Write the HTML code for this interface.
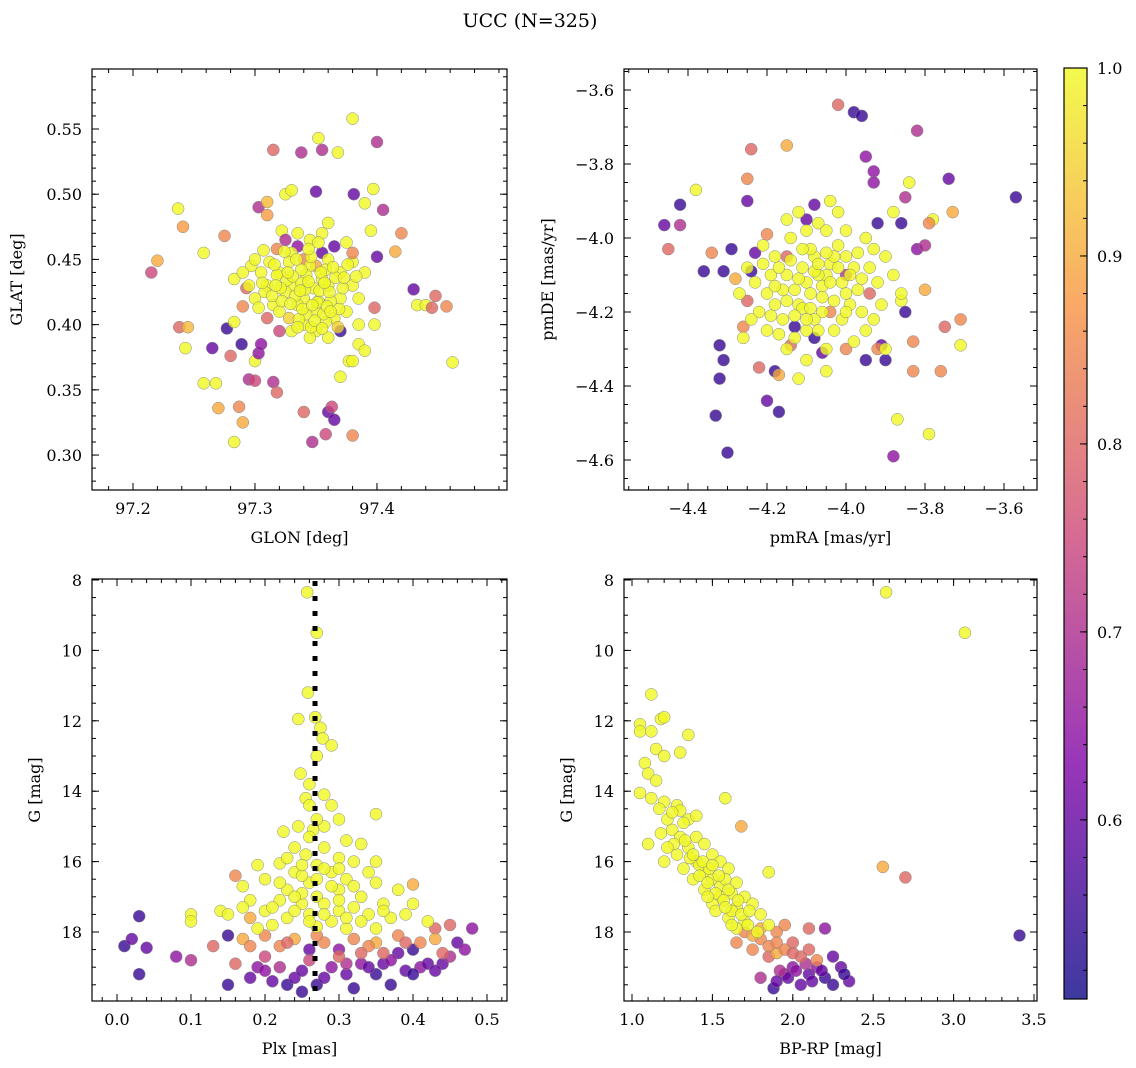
<!DOCTYPE html>
<html><head><meta charset="utf-8"><style>
body{margin:0;background:#fff;}
svg{display:block;font-family:"DejaVu Serif","Liberation Serif",serif;}
</style></head><body>
<svg id="fig" width="1136" height="1068" viewBox="0 0 1136 1068" xmlns="http://www.w3.org/2000/svg">
<text x="530" y="27" font-size="19" text-anchor="middle">UCC (N=325)</text>
</svg>
<script>
// Panel 1: GLON, GLAT, probability
const glonGlat = [[97.215,0.44,0.75],[97.22,0.449,0.9],[97.237,0.489,1],[97.241,0.475,0.88],[97.238,0.398,0.8],[97.245,0.398,0.92],[97.243,0.382,1],[97.258,0.455,1],[97.258,0.355,1],[97.268,0.355,1],[97.27,0.336,0.9],[97.265,0.382,0.6],[97.275,0.468,0.85],[97.277,0.397,0.55],[97.28,0.376,0.8],[97.283,0.31,1],[97.283,0.402,1],[97.283,0.435,1],[97.287,0.337,0.85],[97.29,0.325,0.9],[97.289,0.385,0.55],[97.29,0.414,0.85],[97.293,0.428,0.8],[97.295,0.358,0.7],[97.3,0.357,0.75],[97.3,0.372,1],[97.297,0.445,1],[97.303,0.49,0.7],[97.303,0.378,0.65],[97.305,0.385,0.65],[97.307,0.457,1],[97.31,0.494,0.92],[97.31,0.484,0.88],[97.315,0.534,0.8],[97.315,0.356,0.7],[97.318,0.348,0.8],[97.318,0.458,0.85],[97.322,0.472,1],[97.325,0.5,1],[97.33,0.503,1],[97.338,0.532,0.7],[97.34,0.333,0.8],[97.347,0.31,0.7],[97.35,0.502,0.6],[97.352,0.543,1],[97.355,0.534,0.7],[97.358,0.316,0.75],[97.36,0.333,0.6],[97.363,0.337,0.75],[97.365,0.327,0.6],[97.368,0.532,1],[97.37,0.36,1],[97.377,0.372,1],[97.38,0.315,0.85],[97.38,0.372,1],[97.38,0.558,1],[97.381,0.5,0.6],[97.385,0.385,1],[97.39,0.493,1],[97.397,0.504,1],[97.398,0.4,1],[97.398,0.413,0.8],[97.4,0.54,0.7],[97.405,0.488,0.7],[97.415,0.456,0.9],[97.43,0.427,0.6],[97.433,0.415,1],[97.44,0.415,1],[97.445,0.413,0.8],[97.448,0.422,0.8],[97.457,0.414,0.85],[97.462,0.371,1],[97.395,0.472,1],[97.38,0.448,1],[97.375,0.463,1],[97.39,0.38,1],[97.4,0.452,0.6],[97.42,0.47,0.85],
[97.355,0.455,0.6],[97.365,0.46,0.6],[97.335,0.46,0.65],[97.325,0.465,0.7],[97.37,0.395,0.55],[97.34,0.45,0.85],[97.35,0.445,0.9],[97.31,0.405,0.8],[97.38,0.455,0.85],[97.32,0.395,0.75],
[97.32,0.44,1],[97.33,0.43,1],[97.34,0.42,1],[97.35,0.41,1],[97.36,0.43,1],[97.37,0.42,1],[97.345,0.445,1],[97.355,0.435,1],[97.335,0.415,1],[97.325,0.425,1],[97.365,0.405,1],[97.34,0.40,1],[97.35,0.395,1],[97.36,0.45,1],[97.33,0.455,1],[97.315,0.415,1],[97.31,0.43,1],[97.305,0.44,1],[97.37,0.44,1],[97.38,0.43,1],[97.375,0.41,1],[97.345,0.465,1],[97.355,0.47,1],[97.335,0.47,1],[97.36,0.478,1],[97.32,0.41,1],[97.33,0.395,1],[97.348,0.428,1],[97.352,0.418,1],[97.342,0.438,1],[97.358,0.442,1],[97.338,0.432,1],[97.328,0.448,1],[97.318,0.438,1],[97.362,0.418,1],[97.372,0.428,1],[97.368,0.398,0.95],[97.328,0.405,0.95],[97.3,0.42,1],[97.295,0.43,1],[97.29,0.44,1],[97.385,0.42,1],[97.39,0.44,1],[97.345,0.39,1],[97.3,0.45,1],[97.36,0.39,1],[97.312,0.448,1],[97.342,0.408,1],[97.358,0.402,1],[97.333,0.422,1],[97.366,0.436,1],[97.376,0.446,1],[97.326,0.434,1],[97.346,0.452,1],[97.353,0.426,1],[97.338,0.442,1],[97.322,0.418,1],[97.308,0.425,1],[97.385,0.4,1],
[97.331,0.437,1],[97.341,0.427,1],[97.351,0.417,1],[97.361,0.425,1],[97.336,0.404,1],[97.346,0.398,1],[97.356,0.408,1],[97.321,0.428,1],[97.314,0.422,1],[97.344,0.433,1],[97.354,0.44,1],[97.364,0.444,1],[97.334,0.45,1],[97.324,0.456,1],[97.344,0.458,1],[97.352,0.463,1],[97.339,0.412,1],[97.329,0.416,1],[97.359,0.414,1],[97.369,0.412,1],[97.373,0.436,1],[97.316,0.446,1],[97.306,0.432,1],[97.349,0.403,1],[97.357,0.432,1],[97.337,0.426,1],[97.327,0.44,1],[97.347,0.415,1],[97.362,0.41,1],[97.317,0.43,1],[97.303,0.413,1],[97.383,0.437,1],[97.335,0.398,1],[97.355,0.397,1]];
// Panel 2: pmRA, pmDE, probability
const pmraPmde = [[-4.46,-3.965,0.6],[-4.45,-4.03,0.8],[-4.42,-3.91,0.55],[-4.42,-3.965,0.7],[-4.38,-3.87,1],[-4.36,-4.09,0.55],[-4.34,-4.04,0.85],[-4.33,-4.48,0.55],[-4.32,-4.29,0.55],[-4.31,-4.33,0.55],[-4.32,-4.38,0.55],[-4.3,-4.58,0.55],[-4.31,-4.09,0.55],[-4.29,-4.03,0.55],[-4.28,-4.11,0.9],[-4.26,-4.24,0.85],[-4.26,-4.27,1],[-4.25,-3.84,0.85],[-4.25,-3.9,0.6],[-4.24,-3.76,0.8],[-4.24,-4.09,0.55],[-4.23,-4.04,0.6],[-4.22,-4.35,0.8],[-4.2,-4.44,0.6],[-4.18,-4.36,0.55],[-4.17,-4.47,0.55],[-4.17,-4.37,0.9],[-4.15,-3.75,0.9],[-4.15,-3.95,1],[-4.12,-4.38,1],[-4.1,-3.95,0.6],[-4.08,-3.91,0.6],[-4.05,-4.36,1],[-4.02,-3.64,0.8],[-3.98,-3.66,0.55],[-3.96,-3.67,0.55],[-3.95,-3.78,0.65],[-3.93,-3.82,0.65],[-3.93,-3.85,0.65],[-3.92,-3.96,0.55],[-3.91,-4.29,0.6],[-3.9,-4.33,0.55],[-3.88,-3.93,1],[-3.88,-4.59,0.65],[-3.87,-4.49,1],[-3.86,-3.96,0.55],[-3.86,-4.17,1],[-3.85,-3.89,0.7],[-3.84,-3.85,1],[-3.83,-4.28,0.85],[-3.82,-4.03,0.65],[-3.8,-4.02,0.7],[-3.8,-4.14,0.9],[-3.82,-3.71,0.7],[-3.79,-4.53,1],[-3.78,-3.95,1],[-3.79,-3.96,0.85],[-3.76,-4.36,0.85],[-3.74,-3.84,0.6],[-3.73,-3.93,0.9],[-3.75,-4.24,0.8],[-3.71,-4.22,0.85],[-3.71,-4.29,1],[-3.57,-3.89,0.55],[-3.83,-4.36,0.85],[-3.85,-4.2,0.55],[-3.92,-4.3,0.85],[-3.95,-4.33,0.55],[-4.0,-4.3,0.85],[-4.06,-4.31,0.6],[-4.08,-4.27,0.55],[-4.14,-4.29,0.8],[-4.0,-4.1,0.7],[-4.15,-4.05,0.8],[-4.25,-4.17,0.8],[-4.2,-3.99,0.85],[-4.13,-4.24,0.55],[-4.04,-4.2,0.85],[-3.94,-4.15,0.8],
[-4.05,-4.1,1],[-4.1,-4.12,1],[-4.0,-4.15,1],[-4.08,-4.05,1],[-4.02,-4.02,1],[-4.12,-4.18,1],[-3.98,-4.08,1],[-4.15,-4.1,1],[-4.06,-4.2,1],[-3.96,-4.2,1],[-4.18,-4.05,1],[-4.14,-4.0,1],[-3.95,-4.0,1],[-4.03,-4.25,1],[-4.1,-4.25,1],[-4.2,-4.15,1],[-3.92,-4.12,1],[-4.0,-3.98,1],[-4.07,-3.96,1],[-4.22,-4.2,1],[-3.9,-4.05,1],[-4.16,-4.22,1],[-4.04,-4.07,1],[-4.09,-4.15,1],[-4.01,-4.12,1],[-4.11,-4.08,1],[-3.99,-4.18,1],[-4.07,-4.1,1],[-4.13,-4.14,1],[-3.97,-4.04,1],[-4.19,-4.1,1],[-4.25,-4.08,1],[-4.21,-4.02,1],[-3.93,-4.22,1],[-4.05,-4.3,1],[-4.1,-4.33,1],[-4.12,-3.93,1],[-4.02,-3.93,1],[-3.88,-4.1,1],[-4.03,-4.17,1],[-4.08,-4.22,1],[-4.17,-4.26,1],[-3.94,-4.08,1],[-4.06,-4.13,1],[-4.14,-4.06,1],[-4.0,-4.05,1],[-4.11,-4.19,1],[-4.18,-4.18,1],[-4.23,-4.12,1],[-3.86,-4.15,1],[-3.95,-4.25,1],[-4.04,-3.9,1],[-4.1,-3.98,1],[-3.98,-4.28,1],[-4.15,-4.3,1],[-4.27,-4.15,1],[-3.9,-4.3,1],[-4.2,-4.25,1],
[-4.04,-4.12,1],[-4.08,-4.09,1],[-4.12,-4.11,1],[-4.02,-4.08,1],[-4.06,-4.16,1],[-4.13,-4.21,1],[-3.99,-4.1,1],[-4.16,-4.14,1],[-4.09,-4.03,1],[-4.03,-4.05,1],[-3.97,-4.14,1],[-4.01,-4.22,1],[-4.07,-4.25,1],[-4.17,-4.08,1],[-4.21,-4.07,1],[-3.93,-4.03,1],[-3.96,-4.11,1],[-4.11,-4.03,1],[-4.15,-4.17,1],[-4.19,-4.21,1],[-4.05,-4.04,1],[-4.0,-4.2,1],[-4.09,-4.19,1],[-4.13,-4.27,1],[-4.05,-3.98,1],[-3.91,-4.18,1],[-4.24,-4.22,1],[-4.07,-4.07,1],[-4.1,-4.22,1],[-4.18,-4.13,1]];
// Panel 3: Plx, G, probability
const plxG = [[0.01,18.4,0.55],[0.02,18.2,0.6],[0.03,17.55,0.55],[0.03,19.2,0.55],[0.04,18.45,0.6],[0.08,18.7,0.65],[0.1,18.8,0.7],[0.15,18.1,0.55],[0.15,19.5,0.55],[0.19,19.0,0.65],[0.21,19.4,0.6],[0.23,19.5,0.55],[0.24,19.3,0.6],[0.25,19.7,0.55],[0.25,19.1,0.6],[0.27,19.5,0.55],[0.29,19.0,0.65],[0.31,19.2,0.6],[0.32,19.6,0.55],[0.33,18.9,0.65],[0.35,19.2,0.55],[0.37,19.5,0.55],[0.39,19.1,0.6],[0.4,18.5,0.55],[0.41,19.0,0.65],[0.42,18.9,0.6],[0.44,18.9,0.6],[0.46,18.3,0.6],[0.47,18.5,0.65],[0.48,17.9,0.65],[0.38,18.6,0.6],[0.36,18.9,0.6],[0.26,18.5,0.6],[0.3,18.5,0.65],[0.18,19.3,0.6],[0.22,19.0,0.7],[0.4,19.2,0.55],[0.45,18.7,0.7],[0.34,19.0,0.6],[0.28,19.3,0.6],[0.2,19.1,0.65],[0.43,19.1,0.6],[0.37,18.8,0.65],[0.31,18.9,0.7],
[0.4,16.65,0.9],[0.16,16.4,0.85],[0.18,17.6,0.9],[0.13,18.4,0.8],[0.17,18.2,0.9],[0.2,18.1,0.85],[0.22,18.4,0.85],[0.24,18.2,0.9],[0.28,18.3,0.85],[0.32,18.2,0.85],[0.35,18.3,0.9],[0.38,18.1,0.85],[0.41,18.3,0.85],[0.43,17.9,0.8],[0.45,17.8,0.8],[0.3,18.7,0.8],[0.26,18.8,0.75],[0.36,18.6,0.8],[0.16,18.9,0.8],[0.44,18.6,0.8],[0.2,18.7,0.75],[0.34,18.4,0.85],[0.43,18.2,0.9],[0.23,18.3,0.8],[0.18,18.4,0.85],[0.39,18.3,0.8],[0.27,18.1,0.85],[0.33,18.6,0.8],
[0.257,8.35,1],[0.27,9.5,1],[0.258,11.2,1],[0.268,11.9,1],[0.245,11.95,1],[0.275,12.2,1],[0.278,12.5,1],[0.29,12.7,1],[0.27,13.0,1],[0.248,13.5,1],[0.26,13.8,1],[0.255,14.2,1],[0.28,14.1,1],[0.29,14.4,1],[0.26,14.4,1],[0.35,14.65,1],[0.3,14.8,1],[0.245,15.0,1],[0.265,15.1,1],[0.225,15.15,1],[0.31,15.4,1],[0.33,15.5,1],[0.28,15.6,1],[0.24,15.6,1],[0.255,15.8,1],[0.3,15.9,1],[0.32,16.0,1],[0.22,16.05,1],[0.27,16.1,1],[0.35,16.0,1],[0.19,16.1,1],[0.24,16.3,1],[0.29,16.3,1],[0.31,16.5,1],[0.2,16.5,1],[0.26,16.6,1],[0.35,16.6,1],[0.17,16.7,1],[0.23,16.8,1],[0.3,16.8,1],[0.38,16.8,1],[0.27,17.0,1],[0.33,17.0,1],[0.18,17.1,1],[0.22,17.1,1],[0.36,17.2,1],[0.25,17.2,1],[0.4,17.2,1],[0.14,17.4,1],[0.2,17.4,1],[0.3,17.4,1],[0.34,17.5,1],[0.26,17.5,1],[0.1,17.5,1],[0.15,17.5,1],[0.23,17.6,1],[0.29,17.7,1],[0.37,17.6,1],[0.1,17.7,1],[0.42,17.7,1],[0.28,16.2,1],[0.25,16.9,1],[0.32,17.3,1],[0.21,17.8,1],[0.31,17.9,1],[0.27,17.85,1],[0.35,17.9,1],[0.19,17.9,1],
[0.26,15.3,1],[0.28,15.0,1],[0.25,16.4,1],[0.29,16.7,1],[0.27,16.5,1],[0.24,17.0,1],[0.28,17.2,1],[0.32,16.7,1],[0.22,16.6,1],[0.26,17.7,1],[0.24,17.4,1],[0.33,17.7,1],[0.36,17.4,1],[0.21,17.3,1],[0.3,17.1,1],[0.28,17.5,1],[0.25,16.1,1],[0.3,16.2,1],[0.27,14.8,1],[0.23,15.9,1],[0.34,16.3,1],[0.39,17.5,1],[0.17,17.3,1],[0.31,17.6,1]];
// Panel 4: BP-RP, G, probability
const bprpG = [[2.2,17.9,0.65],[2.25,18.7,0.6],[2.3,19.0,0.6],[2.0,19.0,0.65],[2.1,19.2,0.6],[2.2,19.3,0.55],[2.35,19.4,0.6],[2.32,19.2,0.55],[1.95,19.2,0.65],[2.05,19.5,0.6],[1.88,19.6,0.55],[1.97,19.3,0.6],[2.15,19.0,0.65],[1.8,19.3,0.7],[2.08,18.9,0.7],[2.25,19.5,0.55],[2.12,19.4,0.6],[1.92,19.1,0.7],[3.41,18.1,0.55],[2.02,19.1,0.65],[2.18,19.1,0.6],[1.9,19.4,0.6],
[1.7,18.0,0.85],[1.8,18.2,0.85],[1.9,18.0,0.85],[1.95,17.8,0.85],[2.0,18.3,0.8],[1.75,18.5,0.85],[1.85,18.7,0.8],[2.05,18.7,0.8],[2.1,17.9,0.8],[2.1,18.5,0.8],[1.9,18.6,0.9],[1.65,18.3,0.85],[1.95,18.5,0.85],[1.8,17.9,0.9],[2.15,18.8,0.85],[2.56,16.15,0.9],[2.7,16.45,0.8],[1.68,15.0,0.9],[1.85,18.4,0.85],[1.75,18.1,0.9],[2.0,18.6,0.8],[1.9,18.3,0.85],
[2.58,8.35,1],[3.07,9.5,1],[1.58,14.2,1],[1.12,11.25,1],[1.85,16.3,1],
[1.05,12.1,1],[1.05,12.3,1],[1.12,12.3,1],[1.18,11.95,1],[1.2,11.9,1],[1.15,12.8,1],[1.2,13.0,1],[1.3,12.9,1],[1.35,12.4,1],[1.08,13.2,1],[1.1,13.5,1],[1.15,13.7,1],[1.05,14.05,1],[1.12,14.2,1],[1.2,14.3,1],[1.28,14.4,1],[1.3,14.55,1],[1.22,14.8,1],[1.35,14.8,1],[1.4,14.7,1],[1.1,15.5,1],[1.18,15.2,1],[1.25,15.1,1],[1.3,15.3,1],[1.4,15.3,1],[1.45,15.5,1],[1.35,15.6,1],[1.28,15.8,1],[1.5,15.8,1],[1.55,16.0,1],[1.4,16.0,1],[1.2,16.0,1],[1.32,16.2,1],[1.45,16.3,1],[1.6,16.2,1],[1.5,16.5,1],[1.38,16.5,1],[1.65,16.6,1],[1.55,16.7,1],[1.45,16.8,1],[1.62,16.9,1],[1.7,17.0,1],[1.55,17.0,1],[1.75,17.2,1],[1.65,17.3,1],[1.5,17.2,1],[1.8,17.5,1],[1.6,17.6,1],[1.7,17.7,1],[1.85,17.8,1],[1.78,18.0,1],[1.65,17.9,1],[1.52,17.4,1],[1.42,16.1,1],[1.25,14.6,1],[1.48,16.2,1],[1.58,16.5,1],
[1.36,15.9,1],[1.42,16.4,1],[1.47,16.6,1],[1.52,16.9,1],[1.57,17.1,1],[1.62,17.4,1],[1.68,17.5,1],[1.72,17.8,1],[1.33,15.4,1],[1.26,15.5,1],[1.38,15.8,1],[1.44,16.0,1],[1.5,16.1,1],[1.54,16.4,1],[1.6,16.8,1],[1.66,17.1,1],[1.73,17.4,1],[1.62,17.8,1],[1.58,17.3,1],[1.47,17.0,1],[1.32,14.9,1],[1.17,14.5,1],[1.22,15.6,1]];
const plxMedian = [0.2676];
const cbTicks = [0.6,0.7,0.8,0.9,1.0];
const pMin = 0.5047, pMax = 1.0;

const NS = "http://www.w3.org/2000/svg";
const svg = document.getElementById('fig');
function mk(tag, attrs, parent){const e=document.createElementNS(NS,tag);for(const k in attrs)e.setAttribute(k,attrs[k]);(parent||svg).appendChild(e);return e;}
const stops=[[0,[13,8,135]],[0.25,[126,3,168]],[0.5,[204,71,120]],[0.75,[248,149,64]],[1,[240,249,33]]];
function plasma(t){t=Math.max(0,Math.min(1,t));for(let i=0;i<stops.length-1;i++){const a=stops[i],b=stops[i+1];if(t<=b[0]){const f=(t-a[0])/(b[0]-a[0]);return 'rgb('+a[1].map((v,j)=>Math.round(v+(b[1][j]-v)*f)).join(',')+')';}}return 'rgb(240,249,33)';}
function fmt(v,d){const s=Math.abs(v).toFixed(d);return (v<-1e-9?'\u2212':'')+s;}
function lin(d0,d1,r0,r1){return v=>r0+(v-d0)/(d1-d0)*(r1-r0);}

function panel(cfg){
  const {name,L,T,R,B,xd,yd,xMaj,xMin,yMaj,yMin,xDec,yDec,data,xlab,ylab}=cfg;
  const g=mk('g',{});
  const sx=lin(xd[0],xd[1],L,R), sy=lin(yd[0],yd[1],B,T);
  const clipId=name+'-clip';
  const cp=mk('clipPath',{id:clipId},g);mk('rect',{x:L,y:T,width:R-L,height:B-T},cp);
  const pts=mk('g',{'clip-path':'url(#'+clipId+')'},g);
  
  
  data.forEach(d=>{
    const c=mk('circle',{cx:sx(d[0]).toFixed(1),cy:sy(d[1]).toFixed(1),r:6,fill:plasma((d[2]-pMin)/(pMax-pMin)),'fill-opacity':0.8,stroke:'#888','stroke-width':0.5},pts);
    
    
  });
  if(cfg.extra) cfg.extra(g,sx,sy);
  const ax=mk('g',{stroke:'#000','stroke-width':1},g);
  
  
  const ticks=(vals,len,isX)=>vals.forEach(v=>{
    if(isX){const x=sx(v);if(x<L-0.5||x>R+0.5)return;mk('line',{x1:x,x2:x,y1:B,y2:B-len},ax);mk('line',{x1:x,x2:x,y1:T,y2:T+len},ax);}
    else{const y=sy(v);if(y<T-0.5||y>B+0.5)return;mk('line',{y1:y,y2:y,x1:L,x2:L+len},ax);mk('line',{y1:y,y2:y,x1:R,x2:R-len},ax);}
  });
  ticks(xMin,4,true);ticks(xMaj,7,true);ticks(yMin,4,false);ticks(yMaj,7,false);
  mk('rect',{x:L,y:T,width:R-L,height:B-T,fill:'none',stroke:'#000','stroke-width':1.2},g);
  xMaj.forEach(v=>{const t=mk('text',{x:sx(v),y:B+24,'font-size':16,'text-anchor':'middle'},g);t.textContent=fmt(v,xDec);
    });
  yMaj.forEach(v=>{const t=mk('text',{x:L-10,y:sy(v)+6,'font-size':16,'text-anchor':'end'},g);t.textContent=fmt(v,yDec);
    });
  const xl=mk('text',{x:(L+R)/2,y:B+53,'font-size':16,'text-anchor':'middle'},g);xl.textContent=xlab;
  
  const cy=(T+B)/2, cx=cfg.ylx;
  const yl=mk('text',{x:cx,y:cy,'font-size':16,'text-anchor':'middle',transform:'rotate(-90 '+cx+' '+cy+')'},g);yl.textContent=ylab;
  
}
function range(a,b,s){const o=[];for(let v=a;v<=b+s/1000;v+=s)o.push(Math.round(v/s)*s);return o;}

panel({name:'glon-glat-panel',L:92,T:69,R:507,B:490,xd:[97.1664,97.5066],yd:[0.2732,0.596],
  xMaj:[97.2,97.3,97.4],xMin:range(97.18,97.5,0.02),yMaj:range(0.30,0.55,0.05),yMin:range(0.28,0.59,0.01),xDec:1,yDec:2,
  data:glonGlat,xlab:'GLON [deg]',ylab:'GLAT [deg]',ylx:22});
panel({name:'pm-panel',L:624,T:69,R:1037,B:490,xd:[-4.4-64/395,-3.6+33/395],yd:[-4.6-(490-460)/370,-3.6+(90-69)/370],
  xMaj:range(-4.4,-3.6,0.2),xMin:range(-4.55,-3.45,0.05),yMaj:range(-4.6,-3.6,0.2),yMin:range(-4.7,-3.5,0.05),xDec:1,yDec:1,
  data:pmraPmde,xlab:'pmRA [mas/yr]',ylab:'pmDE [mas/yr]',ylx:553});
panel({name:'plx-g-panel',L:92,T:579,R:507,B:1001,xd:[-25/740,0.5+20/740],yd:[18+(1001-932)/35.2,8-1/35.2],
  xMaj:range(0,0.5,0.1),xMin:range(-0.02,0.52,0.02),yMaj:range(8,18,2),yMin:range(8,20,0.5),xDec:1,yDec:0,
  data:plxG,xlab:'Plx [mas]',ylab:'G [mag]',ylx:40,
  extra:(g,sx,sy)=>{plxMedian.forEach(v=>{const l=mk('line',{x1:sx(v),x2:sx(v),y1:581,y2:1001,stroke:'#000','stroke-width':5,'stroke-dasharray':'5 10'},g);
    });}});
panel({name:'cmd-panel',L:624,T:579,R:1037,B:1001,xd:[1-8/160.8,3.5+3/160.8],yd:[18+(1001-932)/35.2,8-1/35.2],
  xMaj:range(1,3.5,0.5),xMin:range(1,3.5,0.1),yMaj:range(8,18,2),yMin:range(8,20,0.5),xDec:1,yDec:0,
  data:bprpG,xlab:'BP-RP [mag]',ylab:'G [mag]',ylx:572});

// Colorbar
(function(){
  const L=1064,R=1087,T=68,B=999;
  const g=mk('g',{});
  const defs=mk('defs',{},g);const lg=mk('linearGradient',{id:'cbgrad',x1:0,y1:1,x2:0,y2:0},defs);
  for(let i=0;i<=20;i++)mk('stop',{offset:i/20,'stop-color':plasma(i/20),'stop-opacity':0.8},lg);
  mk('rect',{x:L,y:T,width:R-L,height:B-T,fill:'url(#cbgrad)'},g);
  const sy=lin(pMin,pMax,B,T);
  range(0.52,1.0,0.02).forEach(v=>{const y=sy(v);mk('line',{x1:R,x2:R-4,y1:y,y2:y,stroke:'#000'},g);});
  cbTicks.forEach(v=>{const y=sy(v);mk('line',{x1:R,x2:R-7,y1:y,y2:y,stroke:'#000'},g);
    const t=mk('text',{x:R+10,y:y+6,'font-size':16},g);t.textContent=v.toFixed(1);
    });
  mk('rect',{x:L,y:T,width:R-L,height:B-T,fill:'none',stroke:'#000','stroke-width':1.2},g);
})();
</script>
</body></html>
